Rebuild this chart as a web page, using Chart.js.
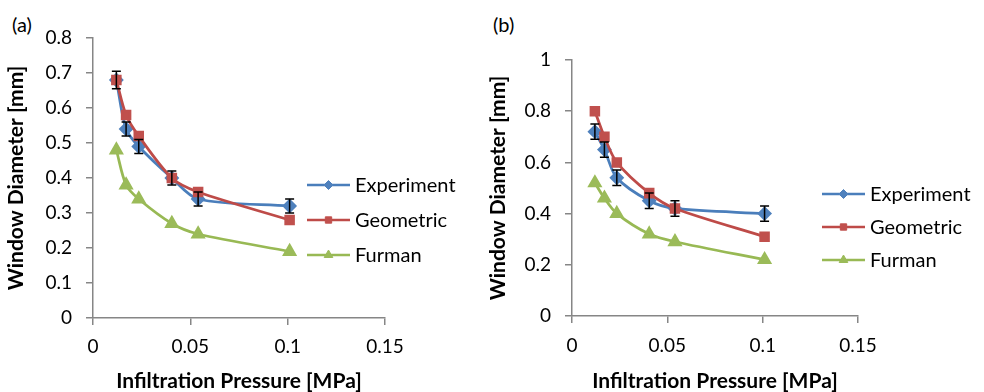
<!DOCTYPE html>
<html>
<head>
<meta charset="utf-8">
<script src="https://cdn.jsdelivr.net/npm/chart.js@4.4.0/dist/chart.umd.min.js"></script>
<style>
  body { margin: 0; background: #fff; width: 984px; height: 392px; overflow: hidden; position: relative; font-family: Lato, sans-serif; }
  canvas { position: absolute; top: 0; }
  .panel { position: absolute; top: 12px; font-size: 20px; line-height: 24px; color: #000; }
</style>
</head>
<body>
<div class="panel" style="left:12px">(a)</div>
<div class="panel" style="left:493px">(b)</div>
<canvas id="chartA" width="480" height="392" style="left:0"></canvas>
<canvas id="chartB" width="504" height="392" style="left:480px"></canvas>
<script>
// values
const seriesNames = ['Experiment', 'Geometric', 'Furman'];
const pressure = [0.012, 0.017, 0.0235, 0.0405, 0.054, 0.101];

const experimentA = [0.68, 0.54, 0.49, 0.40, 0.34, 0.32];
const experimentErrA = [0.025, 0.02, 0.02, 0.02, 0.02, 0.02];
const geometricA = [0.68, 0.58, 0.52, 0.40, 0.36, 0.28];
const furmanA = [0.48, 0.38, 0.34, 0.27, 0.24, 0.19];

const experimentB = [0.72, 0.65, 0.54, 0.45, 0.42, 0.40];
const experimentErrB = [0.03, 0.03, 0.03, 0.03, 0.03, 0.03];
const geometricB = [0.80, 0.70, 0.60, 0.48, 0.42, 0.31];
const furmanB = [0.52, 0.46, 0.40, 0.32, 0.29, 0.22];

const xTicks = [0, 0.05, 0.1, 0.15];
const yTicksA = [0, 0.1, 0.2, 0.3, 0.4, 0.5, 0.6, 0.7, 0.8];
const yTicksB = [0, 0.2, 0.4, 0.6, 0.8, 1];

const axisColor = '#868686';
const fontFamily = 'Lato';
const styles = [
    { line: '#4A7EBB', fill: '#4F81BD', point: 'rectRot', radius: 5.5, order: 1 },
    { line: '#BE4B48', fill: '#C0504D', point: 'rect', radius: 5.5, order: 0 },
    { line: '#98B954', fill: '#9BBB59', point: 'triangle', radius: 6, order: 2 }
];

// error bars on the first series
const errorBarPlugin = {
    id: 'errorBars',
    afterDatasetsDraw(chart, args, opts) {
        const ctx = chart.ctx;
        const xs = chart.scales.x, ys = chart.scales.y;
        const ds = chart.data.datasets[0];
        ctx.save();
        ctx.strokeStyle = '#000';
        ctx.lineWidth = 1.5;
        ds.data.forEach((p, i) => {
            const e = opts.errors[i];
            const x = xs.getPixelForValue(p.x);
            const y1 = ys.getPixelForValue(p.y + e);
            const y2 = ys.getPixelForValue(p.y - e);
            ctx.beginPath();
            ctx.moveTo(x, y1); ctx.lineTo(x, y2);
            ctx.moveTo(x - 4.5, y1); ctx.lineTo(x + 4.5, y1);
            ctx.moveTo(x - 4.5, y2); ctx.lineTo(x + 4.5, y2);
            ctx.stroke();
        });
        ctx.restore();
    }
};

// legend drawn beside the plot
const sideLegendPlugin = {
    id: 'sideLegend',
    afterDraw(chart, args, opts) {
        const ctx = chart.ctx;
        ctx.save();
        chart.data.datasets.forEach((ds, i) => {
            const y = opts.top + i * opts.gap;
            const x0 = opts.left;
            ctx.strokeStyle = ds.borderColor;
            ctx.lineWidth = 2.5;
            ctx.beginPath();
            ctx.moveTo(x0, y); ctx.lineTo(x0 + 43, y);
            ctx.stroke();
            ctx.fillStyle = ds.pointBackgroundColor;
            ctx.strokeStyle = ds.pointBorderColor;
            ctx.lineWidth = 1;
            Chart.helpers.drawPoint(ctx, { pointStyle: ds.pointStyle, radius: ds.pointRadius - 1, rotation: 0, borderWidth: 1 }, x0 + 21.5, y);
            ctx.fillStyle = '#000';
            ctx.font = '20px ' + fontFamily;
            ctx.textBaseline = 'middle';
            ctx.textAlign = 'left';
            ctx.fillText(ds.label, x0 + 48, y + 1);
        });
        ctx.restore();
    }
};

function makeChart(id, series, errors, yTicks, box) {
    const datasets = series.map((vals, i) => ({
        label: seriesNames[i],
        data: vals.map((v, j) => ({ x: pressure[j], y: v })),
        borderColor: styles[i].line,
        backgroundColor: styles[i].fill,
        pointBackgroundColor: styles[i].fill,
        pointBorderColor: styles[i].fill,
        pointStyle: styles[i].point,
        pointRadius: styles[i].radius,
        borderWidth: 2.75,
        tension: 0.3,
        order: styles[i].order
    }));

    return new Chart(document.getElementById(id), {
        type: 'line',
        data: { datasets: datasets },
        options: {
            responsive: false,
            animation: false,
            layout: { padding: { left: 0, top: box.top, right: box.right, bottom: 0 } },
            plugins: {
                legend: { display: false },
                tooltip: { enabled: false },
                errorBars: { errors: errors },
                sideLegend: box.legend
            },
            scales: {
                x: {
                    type: 'linear',
                    min: 0,
                    max: 0.15,
                    afterBuildTicks: s => { s.ticks = xTicks.map(v => ({ value: v })); },
                    afterFit: s => { s.height = box.xAxisH; },
                    grid: { drawOnChartArea: false, drawTicks: true, tickLength: 7, color: axisColor, lineWidth: 1.5 },
                    border: { color: axisColor, width: 1.5 },
                    ticks: { color: '#000', padding: box.xPad, maxRotation: 0, autoSkip: false, font: { family: fontFamily, size: 19 }, callback: v => String(v) },
                    title: { display: true, text: 'Infiltration Pressure [MPa]', color: '#000', font: { family: fontFamily, size: 21, weight: 'bold', lineHeight: 1 }, padding: { top: 0, bottom: 0 } }
                },
                y: {
                    type: 'linear',
                    min: 0,
                    max: yTicks[yTicks.length - 1],
                    afterBuildTicks: s => { s.ticks = yTicks.map(v => ({ value: v })); },
                    afterFit: s => { s.width = box.yAxisW; },
                    grid: { drawOnChartArea: false, drawTicks: true, tickLength: 7, color: axisColor, lineWidth: 1.5 },
                    border: { color: axisColor, width: 1.5 },
                    ticks: { color: '#000', padding: 14, font: { family: fontFamily, size: 19 }, callback: v => String(v) },
                    title: { display: true, text: 'Window Diameter [mm]', color: '#000', font: { family: fontFamily, size: 21, weight: 'bold', lineHeight: 1 }, padding: { top: box.yTitlePad, bottom: 0 } }
                }
            }
        },
        plugins: [errorBarPlugin, sideLegendPlugin]
    });
}

makeChart('chartA', [experimentA, geometricA, furmanA], experimentErrA, yTicksA,
    { top: 38, right: 95, yAxisW: 93, xAxisH: 74, xPad: 10.5, yTitlePad: 5.5, legend: { left: 307, top: 185, gap: 35 } });
makeChart('chartB', [experimentB, geometricB, furmanB], experimentErrB, yTicksB,
    { top: 60, right: 126, yAxisW: 92, xAxisH: 76, xPad: 11, yTitlePad: 8, legend: { left: 342, top: 194, gap: 33 } });
</script>
</body>
</html>
